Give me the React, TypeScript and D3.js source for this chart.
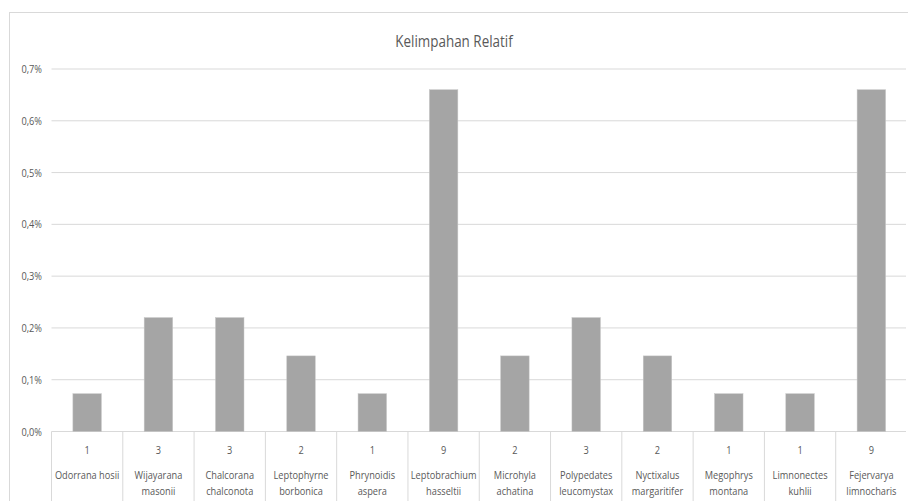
import React from "react";
import * as d3 from "d3";

const categories: string[][] = [
  ["Odorrana hosii"],
  ["Wijayarana", "masonii"],
  ["Chalcorana", "chalconota"],
  ["Leptophyrne", "borbonica"],
  ["Phrynoidis", "aspera"],
  ["Leptobrachium", "hasseltii"],
  ["Microhyla", "achatina"],
  ["Polypedates", "leucomystax"],
  ["Nyctixalus", "margaritifer"],
  ["Megophrys", "montana"],
  ["Limnonectes", "kuhlii"],
  ["Fejervarya", "limnocharis"],
];
const counts = [1, 3, 3, 2, 1, 9, 2, 3, 2, 1, 1, 9];
const values = [0.073, 0.22, 0.22, 0.146, 0.073, 0.66, 0.146, 0.22, 0.146, 0.073, 0.073, 0.66];
const yTicks = [0, 0.1, 0.2, 0.3, 0.4, 0.5, 0.6, 0.7];
const title = "Kelimpahan Relatif";

const W = 908;
const H = 501;
const left = 51.5;
const right = 907;
const top = 69;
const bottom = 431.5;
const SX = 0.84;

function T(props: { x: number; y: number; size: number; anchor?: string; children: React.ReactNode }) {
  return (
    <text
      transform={`translate(${props.x},${props.y}) scale(${SX},1)`}
      textAnchor={props.anchor || "middle"}
      fontSize={props.size}
      fill="#595959"
    >
      {props.children}
    </text>
  );
}

export default function App() {
  const idx = categories.map((_, i) => String(i));
  const x = d3.scaleBand<string>().domain(idx).range([left, right]).paddingInner(0.6).paddingOuter(0.3);
  const xb = d3.scaleBand<string>().domain(idx).range([left, right]);
  const y = d3.scaleLinear().domain([0, 0.7]).range([bottom, top]);
  const font = "'Open Sans', sans-serif";
  return (
    <svg
      width={W}
      height={H}
      style={{ position: "absolute", left: 0, top: 0, background: "#fff" }}
      fontFamily={font}
    >
      <rect x={9.5} y={12.5} width={W} height={H} fill="#fff" stroke="#d9d9d9" />
      <T x={454} y={47} size={16}>
        {title}
      </T>
      {yTicks.map((t) => (
        <g key={t}>
          <line x1={left} x2={right - 1} y1={y(t)} y2={y(t)} stroke="#d9d9d9" strokeWidth={1} />
          <T x={42} y={y(t) + 4} size={11} anchor="end">
            {t.toFixed(1).replace(".", ",") + "%"}
          </T>
        </g>
      ))}
      {values.map((v, i) => (
        <rect
          key={i}
          x={x(String(i))}
          y={y(v)}
          width={x.bandwidth()}
          height={y(0) - y(v)}
          fill="#a5a5a5"
          stroke="#c8c8c8"
          strokeWidth={0.5}
        />
      ))}
      {idx.map((k) => (
        <line key={k} x1={xb(k)} x2={xb(k)} y1={bottom} y2={H} stroke="#d9d9d9" />
      ))}
      {counts.map((c, i) => {
        const cx = (xb(String(i)) as number) + xb.bandwidth() / 2;
        return (
          <T key={i} x={cx} y={454} size={11}>
            {c}
          </T>
        );
      })}
      {categories.map((lines, i) => {
        const cx = (xb(String(i)) as number) + xb.bandwidth() / 2;
        return lines.map((ln, j) => (
          <T key={i + "-" + j} x={cx} y={479 + j * 16} size={11}>
            {ln}
          </T>
        ));
      })}
    </svg>
  );
}
